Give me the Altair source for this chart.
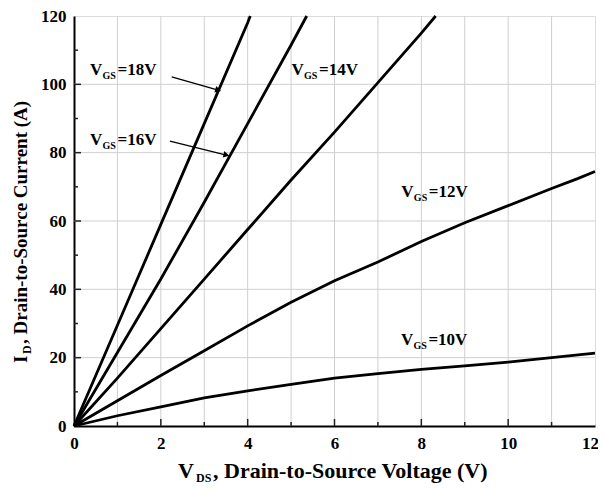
import altair as alt
import pandas as pd

# ---- data ----
x18 = [0, 1, 2, 3, 4, 4.06]
y18 = [0, 29.5, 59, 88.5, 118, 120]
x16 = [0, 1, 2, 3, 4, 5, 5.36]
y16 = [0, 21.5, 43, 65.5, 88.5, 111.5, 120]
x14 = [0, 1, 2, 3, 4, 5, 6, 7, 8, 8.33]
y14 = [0, 14, 28.5, 43, 57.5, 72, 86, 100.5, 115, 120]
x12 = [0, 1, 2, 3, 4, 5, 6, 7, 8, 9, 10, 11, 11.6, 12]
y12 = [0, 7.4, 14.8, 22, 29.3, 36.2, 42.5, 48, 54, 59.5, 64.5, 69.5, 72.4, 74.5]
x10 = [0, 1, 2, 3, 4, 5, 6, 7, 8, 9, 10, 11, 12]
y10 = [0, 3, 5.6, 8.2, 10.3, 12.2, 14, 15.3, 16.6, 17.6, 18.7, 20, 21.3]

series_names = ["18V", "16V", "14V", "12V", "10V"]

label_x = [0.37, 0.37, 5.01, 7.54, 7.53]
label_y = [102.7, 82.2, 102.7, 67.0, 23.7]
label_rest = ["=18V", "=16V", "=14V", "=12V", "=10V"]

arrow_x = [2.25, 2.21]
arrow_y = [102.2, 83.4]
arrow_x2 = [3.32, 3.51]
arrow_y2 = [98.3, 79.3]
arrow_angle = [16, 14]

x_ticks = list(range(0, 13, 2))
x_grid = list(range(1, 12))
y_ticks = list(range(0, 121, 20))
y_grid = list(range(20, 120, 20))
x_major_in = [2, 4, 6, 8, 10]
x_minor_in = [1, 3, 5, 7, 9, 11]
y_major_in = [20, 40, 60, 80, 100]
y_minor_in = [10, 30, 50, 70, 90, 110]

FONT = "Liberation Serif"
W, H = 521, 410

rows = []
for name, xs_, ys_ in zip(series_names, [x18, x16, x14, x12, x10], [y18, y16, y14, y12, y10]):
    for a, b in zip(xs_, ys_):
        rows.append({"series": name, "vds": a, "id": b})
curves = pd.DataFrame(rows)

xs = alt.Scale(domain=[0, 12], nice=False, zero=False)
ys = alt.Scale(domain=[0, 120], nice=False, zero=False)

xgrid = alt.Chart(pd.DataFrame({"g": x_grid})).mark_rule(color="#cfcfcf", strokeWidth=1).encode(
    x=alt.X("g:Q", scale=xs))
ygrid = alt.Chart(pd.DataFrame({"g": y_grid})).mark_rule(color="#cfcfcf", strokeWidth=1).encode(
    y=alt.Y("g:Q", scale=ys))

xt_major = alt.Chart(pd.DataFrame({"t": x_major_in})).mark_rule(color="#222", strokeWidth=1.5).encode(
    x=alt.X("t:Q", scale=xs), y=alt.value(H), y2=alt.value(H - 7))
xt_minor = alt.Chart(pd.DataFrame({"t": x_minor_in})).mark_rule(color="#222", strokeWidth=1.5).encode(
    x=alt.X("t:Q", scale=xs), y=alt.value(H), y2=alt.value(H - 4))
yt_major = alt.Chart(pd.DataFrame({"t": y_major_in})).mark_rule(color="#222", strokeWidth=1.5).encode(
    y=alt.Y("t:Q", scale=ys), x=alt.value(0), x2=alt.value(7))
yt_minor = alt.Chart(pd.DataFrame({"t": y_minor_in})).mark_rule(color="#222", strokeWidth=1.5).encode(
    y=alt.Y("t:Q", scale=ys), x=alt.value(0), x2=alt.value(4))

lines = alt.Chart(curves).mark_line(color="black", strokeWidth=2.8).encode(
    x=alt.X("vds:Q", scale=xs,
            axis=alt.Axis(values=x_ticks, title=None, grid=False, tickSize=0, labelFlush=False,
                          labelOffset={"condition": {"test": "datum.value == 12", "value": -5}, "value": 0},
                          labelFont=FONT, labelFontWeight="bold", labelFontSize=17, labelColor="black",
                          labelPadding=9, domainColor="black", domainWidth=2)),
    y=alt.Y("id:Q", scale=ys,
            axis=alt.Axis(values=y_ticks, title=None, grid=False, tickSize=0, labelFlush=False,
                          labelFont=FONT, labelFontWeight="bold", labelFontSize=17, labelColor="black",
                          labelPadding=8, domainColor="black", domainWidth=2)),
    detail="series:N",
)

lab = pd.DataFrame({"lx": label_x, "ly": label_y, "rest": label_rest,
                    "v": ["V"] * 5, "gs": ["GS"] * 5})
lab_v = alt.Chart(lab).mark_text(font=FONT, fontWeight="bold", fontSize=17, align="left",
                                 baseline="alphabetic", color="black").encode(
    x=alt.X("lx:Q", scale=xs), y=alt.Y("ly:Q", scale=ys), text="v:N")
lab_gs = alt.Chart(lab).mark_text(font=FONT, fontWeight="bold", fontSize=10, align="left",
                                  baseline="alphabetic", color="black", dx=12.5, dy=4).encode(
    x=alt.X("lx:Q", scale=xs), y=alt.Y("ly:Q", scale=ys), text="gs:N")
lab_rest = alt.Chart(lab).mark_text(font=FONT, fontWeight="bold", fontSize=17, align="left",
                                    baseline="alphabetic", color="black", dx=27.5).encode(
    x=alt.X("lx:Q", scale=xs), y=alt.Y("ly:Q", scale=ys), text="rest:N")

arr = pd.DataFrame({"ax": arrow_x, "ay": arrow_y, "ax2": arrow_x2, "ay2": arrow_y2, "ang": arrow_angle})
arrow_line = alt.Chart(arr).mark_rule(color="black", strokeWidth=1.3).encode(
    x=alt.X("ax:Q", scale=xs), y=alt.Y("ay:Q", scale=ys), x2="ax2:Q", y2="ay2:Q")
arrow_head = alt.Chart(arr).mark_point(shape="triangle-right", filled=True, color="black",
                                       size=45, opacity=1).encode(
    x=alt.X("ax2:Q", scale=xs), y=alt.Y("ay2:Q", scale=ys),
    angle=alt.Angle("ang:Q", scale=None))

# axis titles with subscripts
xt_v = alt.Chart(pd.DataFrame({"t": ["V"]})).mark_text(
    font=FONT, fontWeight="bold", fontSize=22, align="left", baseline="alphabetic", color="black").encode(
    x=alt.value(104), y=alt.value(462), text="t:N")
xt_ds = alt.Chart(pd.DataFrame({"t": ["DS"]})).mark_text(
    font=FONT, fontWeight="bold", fontSize=12, align="left", baseline="alphabetic", color="black").encode(
    x=alt.value(122), y=alt.value(466), text="t:N")
xt_rest = alt.Chart(pd.DataFrame({"t": [", Drain-to-Source Voltage (V)"]})).mark_text(
    font=FONT, fontWeight="bold", fontSize=22, align="left", baseline="alphabetic", color="black").encode(
    x=alt.value(139), y=alt.value(462), text="t:N")

yt_i = alt.Chart(pd.DataFrame({"t": ["I"]})).mark_text(
    font=FONT, fontWeight="bold", fontSize=19, align="left", baseline="alphabetic", color="black",
    angle=270).encode(x=alt.value(-47), y=alt.value(347), text="t:N")
yt_d = alt.Chart(pd.DataFrame({"t": ["D"]})).mark_text(
    font=FONT, fontWeight="bold", fontSize=12, align="left", baseline="alphabetic", color="black",
    angle=270).encode(x=alt.value(-43), y=alt.value(338), text="t:N")
yt_rest = alt.Chart(pd.DataFrame({"t": [", Drain-to-Source Current (A)"]})).mark_text(
    font=FONT, fontWeight="bold", fontSize=19, align="left", baseline="alphabetic", color="black",
    angle=270).encode(x=alt.value(-47), y=alt.value(328), text="t:N")

chart = alt.layer(
    xgrid, ygrid, xt_major, xt_minor, yt_major, yt_minor, lines,
    arrow_line, arrow_head, lab_v, lab_gs, lab_rest,
    xt_v, xt_ds, xt_rest, yt_i, yt_d, yt_rest,
).properties(
    width=W, height=H,
    autosize=alt.AutoSizeParams(type="none"),
    padding={"left": 66, "top": 8, "right": 3, "bottom": 58},
).configure_view(stroke="#555", strokeWidth=2).configure(background="white")

chart.save("out.html", embed_options={"renderer": "svg", "actions": False})
